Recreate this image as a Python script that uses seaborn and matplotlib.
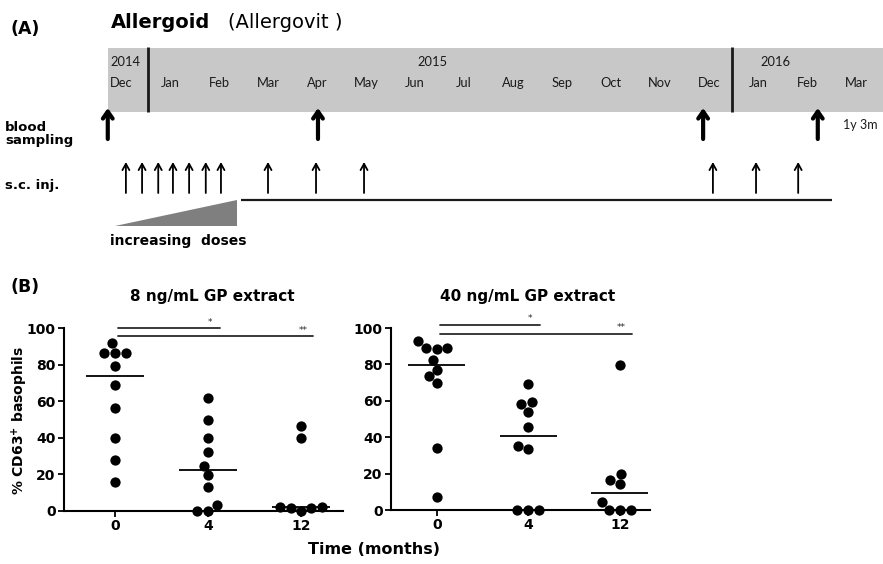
import numpy as np
import pandas as pd
import seaborn as sns
import matplotlib.pyplot as plt
from matplotlib.patches import Rectangle, Polygon

# (A) treatment timeline, month index 0 = Dec 2014
months = ["Dec", "Jan", "Feb", "Mar", "Apr", "May", "Jun", "Jul",
          "Aug", "Sep", "Oct", "Nov", "Dec", "Jan", "Feb", "Mar"]
years = ["2014", "2015", "2016"]
year_breaks = [0.55, 12.47]
blood_sampling = [-0.27, 4.02, 11.88, 14.22]
injections = [0.10, 0.43, 0.76, 1.06, 1.39, 1.73, 2.04,
              3.00, 3.98, 4.96, 12.08, 12.96, 13.82]

# (B) % CD63+ basophils per time point (months)
times = ["0", "4", "12"]
gp8_m0 = [86.3, 86.3, 86.3, 91.6, 79.0, 68.8, 56.2, 40.1, 27.9, 15.7]
gp8_m4 = [61.5, 50.0, 40.1, 32.0, 24.8, 19.7, 13.3, 3.1, 0.2, 0.2]
gp8_m12 = [46.7, 40.1, 2.4, 1.8, 0.0, 1.8, 2.4]
gp40_m0 = [89.0, 88.3, 88.8, 92.7, 82.3, 77.1, 73.5, 69.8, 33.8, 7.1]
gp40_m4 = [69.1, 58.1, 59.4, 53.9, 45.7, 35.1, 33.3, 0.0, 0.0, 0.0]
gp40_m12 = [79.9, 16.5, 14.1, 19.7, 4.2, 0.0, 0.0, 0.0]
comparisons = [("0", "4", "*"), ("0", "12", "**")]

sns.set_style("white")
plt.rcParams['font.family'] = ['DejaVu Sans']
plt.rcParams['text.color'] = 'black'

W, H = 883, 564
fig = plt.figure(figsize=(W / 100, H / 100), dpi=100)


def fx(px):
    return px / W


def fy(py):
    return 1 - py / H


def px2m(px):
    # pixel column -> month index on the timeline
    return (px - 121) / 49


# ---- panel A ----
axA = fig.add_axes([0, 0, 1, 1], zorder=0)
axA.set_xlim(px2m(0), px2m(W))
axA.set_ylim(H, 0)
axA.axis("off")

axA.add_patch(Rectangle((px2m(108), 48), px2m(W + 5) - px2m(108), 64,
                        facecolor="#c8c8c8", edgecolor="none"))
axA.vlines(year_breaks, 47, 112, color="#1a1a1a", lw=2)

month_font = dict(family=["Lato", "DejaVu Sans"], fontsize=9.3, color="#1a1a1a")
axA.text(px2m(110), 62, years[0], ha="left", va="center", **month_font)
axA.text(px2m(432), 62, years[1], ha="center", va="center", **month_font)
axA.text(px2m(775), 62, years[2], ha="center", va="center", **month_font)
for i, m in enumerate(months):
    axA.text(i, 83, m, ha="center", va="center", **month_font)

for m in blood_sampling:
    axA.annotate("", xy=(m, 108), xytext=(m, 139),
                 arrowprops=dict(arrowstyle="->,head_length=0.5,head_width=0.35",
                                 lw=3, color="k", shrinkA=0, shrinkB=0))
for m in injections:
    axA.annotate("", xy=(m, 162), xytext=(m, 193),
                 arrowprops=dict(arrowstyle="->,head_length=0.45,head_width=0.25",
                                 lw=1.3, color="k", shrinkA=0, shrinkB=0))

axA.hlines(200, px2m(241), px2m(832), color="#1a1a1a", lw=1.6)
axA.add_patch(Polygon([(px2m(115), 226), (px2m(237), 200), (px2m(237), 226)],
                      closed=True, facecolor="#7f7f7f", edgecolor="none"))
axA.text(px2m(843), 125, "1y 3m", ha="left", va="center",
         family=["Lato", "DejaVu Sans"], fontsize=9, color="#1a1a1a")

fig.text(fx(11), fy(29), "(A)", ha="left", va="center", fontsize=12.5, weight="bold")
fig.text(fx(111), fy(22), "Allergoid", ha="left", va="center", fontsize=14, weight="bold")
fig.text(fx(228), fy(22), "(Allergovit )", ha="left", va="center", fontsize=14)
fig.text(fx(5), fy(134), "blood\nsampling", ha="left", va="center", fontsize=9.5,
         weight="bold", linespacing=1.05)
fig.text(fx(5), fy(185), "s.c. inj.", ha="left", va="center", fontsize=9.5, weight="bold")
fig.text(fx(110), fy(241), "increasing  doses", ha="left", va="center", fontsize=10,
         weight="bold")

# ---- panel B ----
def long_df(groups):
    rows = []
    for t, vals in zip(times, groups):
        rows += [(t, v) for v in vals]
    return pd.DataFrame(rows, columns=["time", "pct"])


panels = [
    (long_df([gp8_m0, gp8_m4, gp8_m12]), [64, 53, 279, 183], (-0.55, 2.45), [100.0, 95.4]),
    (long_df([gp40_m0, gp40_m4, gp40_m12]), [391, 54, 259, 182], (-0.5, 2.33), [101.8, 96.9]),
]

for df, (l, b, w, h), xlim, bar_y in panels:
    ax = fig.add_axes([l / W, b / H, w / W, h / H], zorder=2)
    ax.set_ylim(0, 100)
    sns.swarmplot(data=df, x="time", y="pct", order=times, color="k",
                  size=7.4, ax=ax, clip_on=False, zorder=3)
    ax.set_xlim(*xlim)
    ax.set_ylim(0, 100)
    for i, t in enumerate(times):
        med = df.loc[df["time"] == t, "pct"].median()
        ax.hlines(med, i - 0.31, i + 0.31, color="k", lw=1.3, zorder=4)

    for (a, c, star), yb in zip(comparisons, bar_y):
        ia, ic = times.index(a), times.index(c)
        ax.plot([ia + 0.03, ic + 0.13], [yb, yb], color="#2a2a2a", lw=1.3,
                clip_on=False)
        ax.text(ic + 0.02, yb + 0.8, star, ha="center", va="bottom", fontsize=6.5,
                color="#2a2a2a")

    ax.set_yticks([0, 20, 40, 60, 80, 100])
    ax.set_xlabel("")
    ax.set_ylabel("")
    sns.despine(ax=ax)
    for s in ["left", "bottom"]:
        ax.spines[s].set_linewidth(1.5)
        ax.spines[s].set_color("k")
    ax.tick_params(axis="both", direction="out", length=4, width=1.3, labelsize=10,
                   colors="k", left=True, bottom=True, pad=2)
    for lab in ax.get_xticklabels() + ax.get_yticklabels():
        lab.set_fontweight("bold")

fig.text(fx(11), fy(287), "(B)", ha="left", va="center", fontsize=12.5, weight="bold")
fig.text(fx(212), fy(297), "8 ng/mL GP extract", ha="center", va="center",
         fontsize=11, weight="bold")
fig.text(fx(528), fy(297), "40 ng/mL GP extract", ha="center", va="center",
         fontsize=11, weight="bold")
fig.text(fx(20), fy(420), "% CD63$^{\\mathbf{+}}$ basophils", ha="center", va="center",
         rotation=90, fontsize=10, weight="bold")
fig.text(fx(374), fy(549), "Time (months)", ha="center", va="center",
         fontsize=11.5, weight="bold")

fig.savefig("out.png", dpi=100)
